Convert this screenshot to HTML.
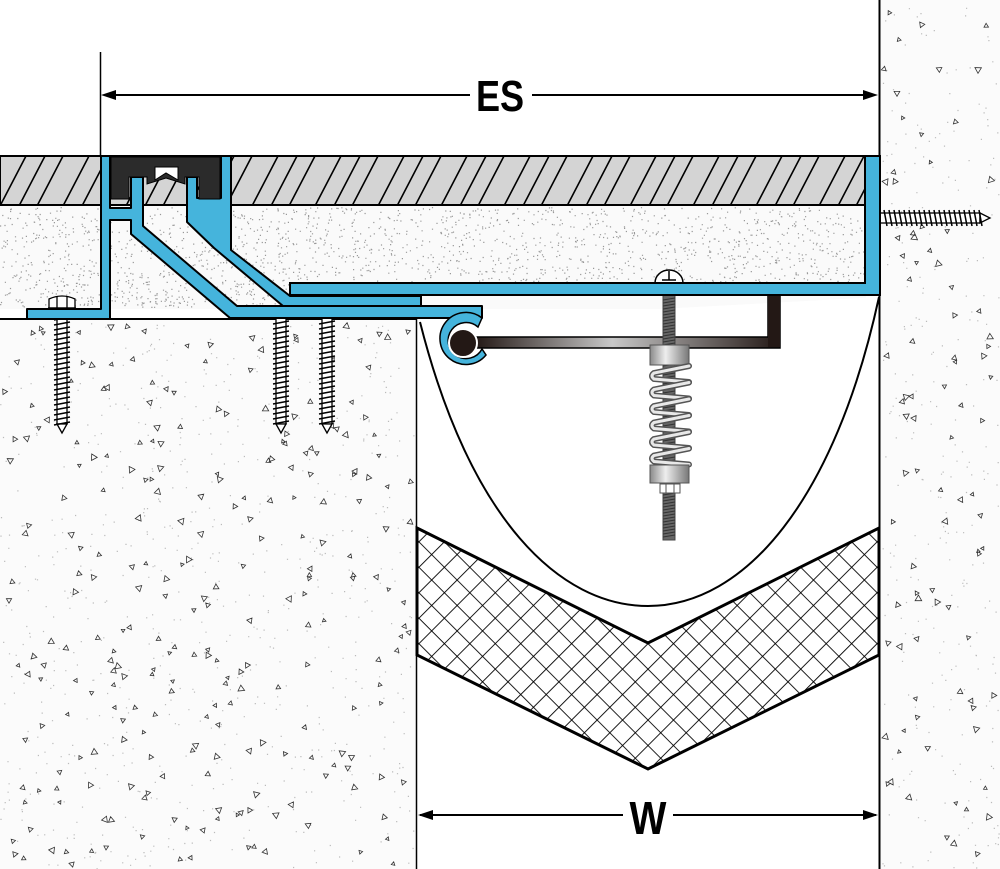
<!DOCTYPE html>
<html><head><meta charset="utf-8"><style>
html,body{margin:0;padding:0;background:#fff;}
svg{display:block;}
</style></head><body>
<svg id="s" width="1000" height="869" viewBox="0 0 1000 869" xmlns="http://www.w3.org/2000/svg">
<defs>
<pattern id="hatch" patternUnits="userSpaceOnUse" x="0" y="156" width="63" height="50">
<rect width="63" height="50" fill="#d4d4d4"/>
<path d="M-26,50 L0,0 M0,50 L26,0 M19,50 L45,0 M37,50 L63,0 M63,50 L89,0" stroke="#000" stroke-width="1.6" fill="none"/>
</pattern>
<pattern id="xh" patternUnits="userSpaceOnUse" width="18" height="18" patternTransform="translate(648,643) rotate(45)">
<rect width="18" height="18" fill="#fff"/>
<path d="M0,0 H18 M0,0 V18" stroke="#000" stroke-width="1.8"/>
</pattern>
<linearGradient id="bar" x1="0" x2="1" y1="0" y2="0">
<stop offset="0" stop-color="#231815"/><stop offset="0.45" stop-color="#c8c8c8"/><stop offset="1" stop-color="#231815"/>
</linearGradient>
<linearGradient id="met" x1="0" x2="1"><stop offset="0" stop-color="#8a8a8a"/><stop offset="0.4" stop-color="#eee"/><stop offset="1" stop-color="#777"/></linearGradient>
</defs>

<rect x="0" y="319" width="416" height="550" fill="#fbfbfb"/>
<rect x="880" y="0" width="120" height="869" fill="#fbfbfb"/>
<line x1="0" y1="319" x2="416" y2="319" stroke="#000" stroke-width="2"/>
<line x1="416.5" y1="319" x2="416.5" y2="869" stroke="#000" stroke-width="1.5"/>
<line x1="879.5" y1="0" x2="879.5" y2="869" stroke="#000" stroke-width="2"/>
<rect x="0" y="205" width="866" height="104" fill="#fafafa"/>
<g id="spk"></g>
<rect x="0" y="156" width="866" height="49" fill="url(#hatch)" stroke="#000" stroke-width="2"/>

<path d="M420,322 C470,520 560,606 648,606 C745,606 835,500 879,297" fill="#fff" stroke="#000" stroke-width="2"/>
<path d="M417,528 L648,643 L879,528 L879,655 L648,769 L417,655 Z" fill="url(#xh)" stroke="#000" stroke-width="3"/>

<line x1="100.5" y1="52" x2="100.5" y2="156" stroke="#000" stroke-width="1.5"/>
<line x1="104" y1="95" x2="470" y2="95" stroke="#000" stroke-width="2"/>
<line x1="532" y1="95" x2="874" y2="95" stroke="#000" stroke-width="2"/>
<path d="M101,95 L116,90 L116,100 Z M878,95 L863,90 L863,100 Z" fill="#000"/>
<text x="500" y="111" font-family="Liberation Sans, sans-serif" font-weight="bold" font-size="44" text-anchor="middle" transform="translate(500,0) scale(0.82,1) translate(-500,0)" fill="#000">ES</text>
<line x1="420" y1="815" x2="623" y2="815" stroke="#000" stroke-width="2"/>
<line x1="673" y1="815" x2="876" y2="815" stroke="#000" stroke-width="2"/>
<path d="M418,815 L433,810 L433,820 Z M878,815 L863,810 L863,820 Z" fill="#000"/>
<text x="648" y="834" font-family="Liberation Sans, sans-serif" font-weight="bold" font-size="46" text-anchor="middle" transform="translate(648,0) scale(0.85,1) translate(-648,0)" fill="#000">W</text>

<g id="screws" stroke="#000" stroke-width="1.3" fill="#fff"></g>

<path d="M475,337 H768 V295 H780 V348 H475 Z" fill="url(#bar)" stroke="#000" stroke-width="1.5"/>
<rect x="768" y="295" width="12" height="52" fill="#231815"/>

<rect x="663" y="295" width="12" height="245" fill="#666" stroke="#444" stroke-width="1"/>
<g id="thr" stroke="#333" stroke-width="1"></g>
<path d="M655,283 A14,13 0 0 1 683,283 Z" fill="#fff" stroke="#000" stroke-width="1.5"/>
<line x1="669" y1="271" x2="669" y2="280" stroke="#000" stroke-width="1.5"/>
<line x1="662" y1="280" x2="676" y2="280" stroke="#000" stroke-width="1.5"/>
<rect x="650" y="345" width="39" height="20" fill="url(#met)" stroke="#555"/>
<g id="spr" fill="none" stroke-linecap="round"></g>
<rect x="650" y="465" width="39" height="18" fill="url(#met)" stroke="#555"/>
<rect x="660" y="484" width="20" height="9" fill="#fff" stroke="#555"/>
<line x1="666" y1="484" x2="666" y2="493" stroke="#555"/><line x1="674" y1="484" x2="674" y2="493" stroke="#555"/>

<path d="M865,156 H880 V295 H290 V283 H865 Z" fill="#45b4dc" stroke="#000" stroke-width="2"/>
<path d="M27,309 H101 V156 H110 V208 H131 V177 H143 V226 L237,306 H482 V318 H230 L131,234 V220 H110 V319 H27 Z" fill="#45b4dc" stroke="#000" stroke-width="2" stroke-linejoin="round"/>
<path d="M221,156 H231 V250 L290,296 H421 V306 H283 L214,248 L187,222 V177 H197 V198 H221 Z" fill="#45b4dc" stroke="#000" stroke-width="2" stroke-linejoin="round"/>
<path d="M111,157 H220 V199 H199 V177 H185 V184 L166,178 L147,184 V177 H129 V199 H111 Z" fill="#2b2b2b" stroke="#000" stroke-width="1"/>
<path d="M155,167 H178 V180 L166,173 L155,180 Z" fill="#fff" stroke="#000" stroke-width="1"/>
<path d="M482,318 A26,26 0 1 0 486,355 L482,349 A18,18 0 1 1 478,327 Z" fill="#45b4dc" stroke="#000" stroke-width="1.5"/>
<circle cx="463" cy="343" r="14" fill="#231815" stroke="#fff" stroke-width="2"/>
</svg>
<script>
(function(){
var NS="http://www.w3.org/2000/svg";
var seed=12345;function r(){seed=(seed*16807)%2147483647;return seed/2147483647;}
var g=document.getElementById('spk');
function el(t,a,p){var e=document.createElementNS(NS,t);for(var k in a)e.setAttribute(k,a[k]);(p||g).appendChild(e);return e;}
function dots(x0,y0,w,h,n,col){var d="";for(var i=0;i<n;i++){var x=x0+r()*w,y=y0+r()*h;d+="M"+x.toFixed(1)+","+y.toFixed(1)+"h1.2v1.2h-1.2z";}el('path',{d:d,fill:col});}
function tris(x0,y0,w,h,n){var d="";for(var i=0;i<n;i++){var x=x0+r()*w,y=y0+r()*h,a=r()*6.28,s=2+r()*1.8;d+="M";for(var k=0;k<3;k++){var b=a+k*2.094;d+=(x+s*Math.cos(b)).toFixed(1)+","+(y+s*Math.sin(b)).toFixed(1)+(k<2?"L":"Z");}}el('path',{d:d,fill:"none",stroke:"#333","stroke-width":"0.8"});}
dots(0,207,864,76,1600,"#999");
dots(0,283,290,24,250,"#999");
dots(0,322,414,547,700,"#bbb");
dots(882,0,118,869,300,"#bbb");
tris(4,325,408,540,260);
tris(884,4,112,860,90);
var sc=document.getElementById('screws');
function vscrew(cx,top,bot,hex){var d="";
 if(hex){el('path',{d:"M"+(cx-13)+",308 V299 Q"+cx+",293 "+(cx+13)+",299 V308 Z"},sc);el('path',{d:"M"+(cx-5)+",296v12M"+(cx+5)+",296v12M"+(cx-14)+",308h28"},sc);}
 else{el('path',{d:"M"+(cx-13)+",306 L"+(cx+13)+",306 L"+(cx+5)+",318 L"+(cx-5)+",318 Z"},sc);}
 el('rect',{x:cx-5,y:top,width:10,height:bot-top},sc);
 el('path',{d:"M"+(cx-5)+","+bot+" L"+cx+","+(bot+9)+" L"+(cx+5)+","+bot+" Z"},sc);
 for(var y=top+3;y<bot;y+=5)d+="M"+(cx-8)+","+(y+3)+"L"+(cx+8)+","+y;
 el('path',{d:d,fill:"none","stroke-width":"1.5"},sc);}
vscrew(62,309,424,true);vscrew(281,318,424,false);vscrew(327,318,424,false);
el('path',{d:"M866,208 L880,214 L880,222 L866,228 Z"},sc);
el('rect',{x:880,y:213,width:100,height:10},sc);
el('path',{d:"M980,213 L990,218 L980,223 Z"},sc);
var d="";for(var x=884;x<980;x+=5)d+="M"+x+",210L"+(x+3)+",226";
el('path',{d:d,fill:"none","stroke-width":"1.5"},sc);
var th=document.getElementById('thr');d="";for(var y=298;y<538;y+=3)d+="M663,"+(y+2)+"L675,"+y;
el('path',{d:d},th);
var sp=document.getElementById('spr');
for(var i=0;i<6;i++){var y=370+i*16.5;
 el('path',{d:"M689,"+(y-4)+" L654,"+(y+3)+" Q650,"+(y+6)+" 654,"+(y+9)+" L689,"+(y+12),stroke:"#555","stroke-width":"6"},sp);
 el('path',{d:"M689,"+(y-4)+" L654,"+(y+3)+" Q650,"+(y+6)+" 654,"+(y+9)+" L689,"+(y+12),stroke:"#e8e8e8","stroke-width":"3"},sp);}
})();
</script>
</body></html>
